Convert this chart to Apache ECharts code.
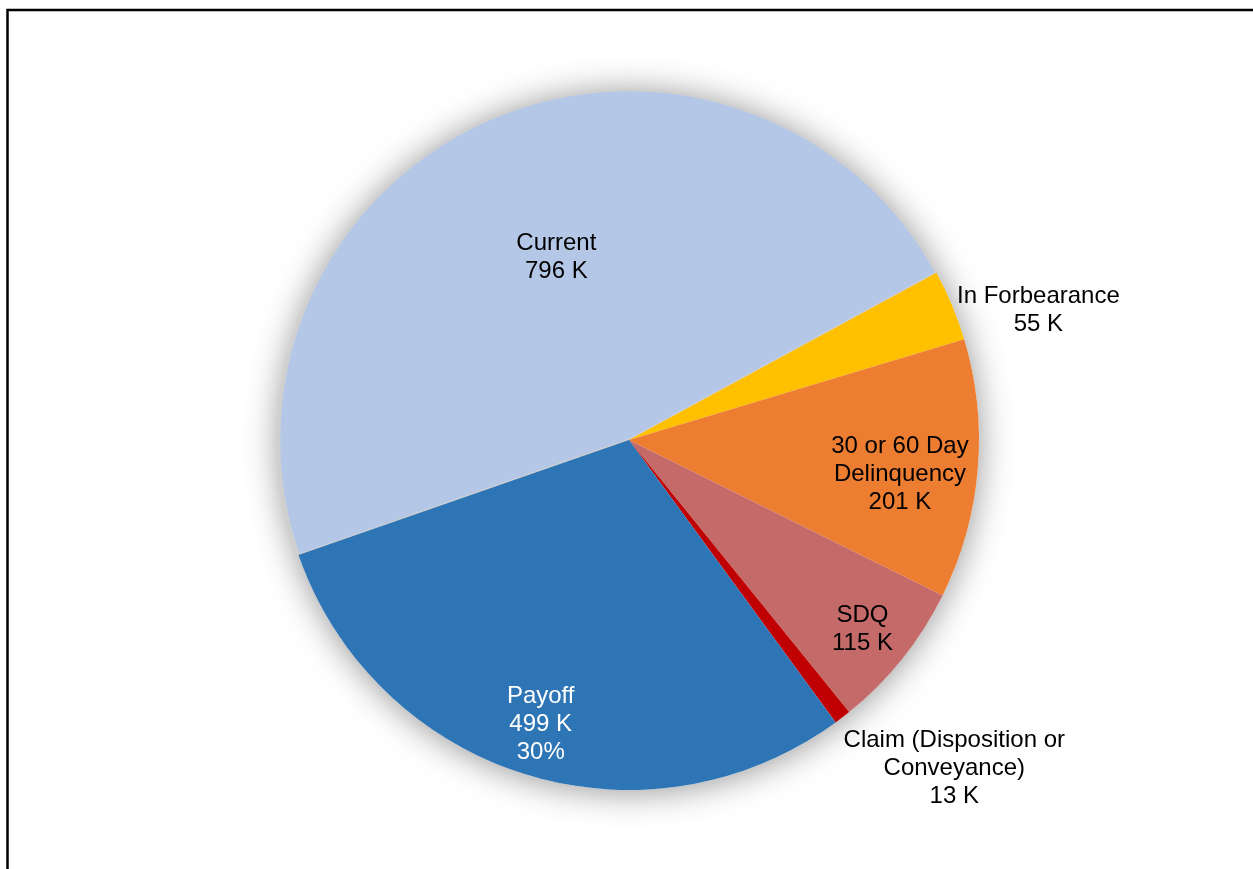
<!DOCTYPE html>
<html>
<head>
<meta charset="utf-8">
<title>Loan Status</title>
<script src="https://cdn.jsdelivr.net/npm/echarts@6/dist/echarts.min.js"></script>
<style>
  html, body { margin: 0; padding: 0; background: #fff; }
  #chart { width: 1253px; height: 869px; }
</style>
</head>
<body>
<div id="chart"></div>
<script>
// Loan counts by status, in thousands
const categories = ['Current', 'In Forbearance', '30 or 60 Day\nDelinquency', 'SDQ', 'Claim (Disposition or\nConveyance)', 'Payoff'];
const values = [796, 55, 201, 115, 13, 499];
const colors = ['#B4C7E7', '#FFC000', '#ED7D31', '#C46A69', '#C00000', '#2E75B6'];
const textColors = ['#000', '#000', '#000', '#000', '#000', '#fff'];
const showPercent = [false, false, false, false, false, true];

// Label placement: distance from centre as a fraction of the radius,
// and a small angular turn (degrees) from the slice's mid angle.
const labelRadius = [0.565, 1.228, 0.78, 0.857, 1.317, 0.848];
const labelTurn = [-2.3, -4.9, -2.2, -0.2, 7.3, 0];

const CX = 629, CY = 440, R = 350;
const START = 199.2;

const total = values.reduce((a, b) => a + b, 0);
const midAngles = [];
{
  let acc = START;
  values.forEach(v => {
    const span = v / total * 360;
    midAngles.push(acc - span / 2);
    acc -= span;
  });
}

const chart = echarts.init(document.getElementById('chart'));

chart.setOption({
  animation: false,
  backgroundColor: '#fff',
  graphic: [{
    type: 'rect',
    shape: { x: 7.5, y: 10, width: 1400, height: 1000 },
    style: { fill: 'none', stroke: '#000', lineWidth: 2.5 },
    z: 100
  }],
  series: [
    {
      // soft halo drawn under the slices
      type: 'pie',
      silent: true,
      center: [CX, CY],
      radius: [0, R],
      label: { show: false },
      labelLine: { show: false },
      itemStyle: {
        color: '#fff',
        shadowBlur: 34,
        shadowColor: 'rgba(0,0,0,0.42)',
        shadowOffsetX: 0,
        shadowOffsetY: 2
      },
      data: [{ value: 1, name: '' }],
      z: 1
    },
    {
      type: 'pie',
      center: [CX, CY],
      radius: [0, R],
      startAngle: START,
      clockwise: true,
      z: 2,
      label: {
        show: true,
        position: 'inside',
        fontFamily: '"Liberation Sans", Arial, sans-serif',
        fontSize: 24,
        lineHeight: 28,
        align: 'center',
        verticalAlign: 'middle',
        formatter: p => {
          let s = p.name + '\n' + p.value + ' K';
          if (showPercent[p.dataIndex]) s += '\n' + Math.round(p.percent) + '%';
          return s;
        }
      },
      labelLine: { show: false },
      labelLayout: p => {
        const i = p.dataIndex;
        const a = (midAngles[i] + labelTurn[i]) * Math.PI / 180;
        const r = labelRadius[i] * R;
        return { x: CX + r * Math.cos(a), y: CY - r * Math.sin(a) + 1.5, align: 'center', verticalAlign: 'middle' };
      },
      data: categories.map((name, i) => ({
        name,
        value: values[i],
        itemStyle: i === 0
          ? { color: colors[i], borderColor: '#D0D0D0', borderWidth: 2.5 }
          : { color: colors[i], borderWidth: 0 },
        label: { color: textColors[i] }
      }))
    }
  ]
});
</script>
</body>
</html>
